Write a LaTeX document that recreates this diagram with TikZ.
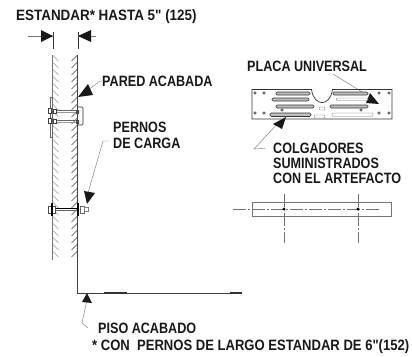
\documentclass[tikz,border=0pt]{standalone}
\usepackage{fontspec}
\setmainfont{Liberation Sans}[Ligatures=TeXOff]
\newcommand{\pp}[2][0.84]{\scalebox{#1}[1]{\bfseries #2}}
\tikzset{x=1pt,y=-1pt,
 lbl/.style={font=\fontsize{15}{17}\selectfont\bfseries,inner sep=0,anchor=west,align=left,text=black!90},
 lead/.style={draw=black!55,line width=0.4pt},
 tip/.style={fill=black!90,draw=none},
 wall/.style={draw=black!55,line width=0.6pt},
 hatchl/.style={draw=black!40,line width=0.4pt},
 hatchr/.style={draw=black!75,line width=0.45pt},
 plate/.style={draw=black!80,line width=0.7pt},
 slot/.style={draw=black!80,line width=0.6pt,fill=black!25,rounded corners=1.2pt},
 slote/.style={draw=black!55,line width=0.4pt,fill=white,rounded corners=1.2pt},
 hole/.style={draw=black!80,line width=0.5pt,fill=white},
 center/.style={draw=black!55,line width=0.5pt,dash pattern=on 13pt off 2pt on 2pt off 2pt},
}
\begin{document}
\begin{tikzpicture}
\useasboundingbox (0,0) rectangle (412,356);
% text
\node[lbl] (t1) at (16,16.5) {\pp[0.895]{ESTANDAR* HASTA 5" (125)}};
\node[lbl] (t2) at (102,81) {\pp{PARED ACABADA}};
\node[lbl] (t3) at (113,127) {\pp{PERNOS}};
\node[lbl] (t4) at (113,143) {\pp{DE CARGA}};
\node[lbl] (t5) at (247,66) {\pp{PLACA UNIVERSAL}};
\node[lbl] (t6) at (273,148) {\pp{COLGADORES}};
\node[lbl] (t7) at (273,163) {\pp{SUMINISTRADOS}};
\node[lbl] (t8) at (273,178) {\pp{CON EL ARTEFACTO}};
\node[lbl] (t9) at (98,328) {\pp{PISO ACABADO}};
\node[lbl] (t10) at (92,346.5) {\pp[0.87]{* CON\ \ PERNOS DE LARGO ESTANDAR DE 6"(152)}};
% coordinates
\coordinate (wl1) at (52.5,55); \coordinate (wl2) at (52.5,260);
\coordinate (wr1) at (77.5,55); \coordinate (wr2) at (77.5,293);
\coordinate (f2) at (242,293);
% walls
\draw[wall] (wl1)--(wl2);
\draw[draw=black!75,line width=0.6pt] (wr1)--(wr2)--(f2);
\draw[black!80,line width=1.1pt] (104,293)--(127,293) (230,293)--(242,293);
\foreach \y in {55,62,...,252} {\draw[hatchl] (52.5,\y)--(58.5,\y+6);}
\foreach \y in {55,62,...,252} {\draw[hatchr] (77.5,\y)--(71.5,\y+6);}
% dimension
\draw[black!80,line width=0.6pt] (53,32)--(53,49) (78,32)--(78,49);
\coordinate (da) at (28,36); \coordinate (db) at (96,36);
\draw[lead] (da)--(53,36) (db)--(78,36);
\fill[tip] (53,36)--(41,30)--(41,42)--cycle;
\fill[tip] (78,36)--(91,30)--(91,42)--cycle;
% upper bracket
\draw[black!60,line width=0.5pt,fill=white] (50,97) rectangle (52.5,137);
\draw[black!60,line width=0.6pt] (55,110)--(77,110) (55,120)--(77,120);
\draw[black!40,line width=0.5pt] (55,112)--(77,112) (55,122)--(77,122);
\draw[black!75,line width=0.5pt,fill=white] (48,108) rectangle (51,113.5) (48,118) rectangle (51,123.5);
\draw[black!75,line width=0.5pt,fill=white] (53,109) rectangle (56,113) (53,119) rectangle (56,123);
\fill[black!70] (76,110) rectangle (79,114) (76,120) rectangle (79,124);
\draw[black!85,line width=0.7pt,rounded corners=1pt] (78,107) -- (83,107) -- (83,125) -- (78,125);
% lower bolt
\draw[black,line width=1.1pt] (54,208.5)--(77,208.5);
\draw[black!60,line width=0.3pt] (54,210.5)--(77,210.5);
\draw[black!70,line width=0.5pt,fill=white] (48,206) rectangle (55,213);
\fill[black] (51,203) rectangle (53,215.5);
\fill[black] (77,203) rectangle (79,215.5);
\draw[black!60,line width=0.5pt,fill=white] (80,206) rectangle (84,213);
\draw[black!50,line width=0.4pt,fill=white] (84,207.5) rectangle (88,211.5);
% leaders
\draw[lead] (t2.west)--(100,81)--(80,96);
\fill[tip] (78,97)--(88,84)--(93,95)--cycle;
\coordinate (b) at (109,141);
\draw[lead] (b)--(103,141)--(88,193);
\fill[tip] (87,204)--(84,191)--(95,193)--cycle;
\coordinate (pa) at (333,74); \coordinate (pb) at (367,95);
\draw[lead] (pa)--(pb);
\fill[tip] (379,104)--(370,93)--(366,103)--cycle;
\draw[lead,shorten <=8pt] (t6.west)--(254,149)--(279,122);
\fill[tip] (286,117)--(273,124)--(282,129)--cycle;
\draw[lead,shorten <=10pt] (t9.west)--(88,328)--(82,323)--(87,300);
\fill[tip] (87,293)--(82,302)--(92,303)--cycle;
% plate
\draw[plate] (252,89.5) -- (311.5,89.5) .. controls (314,107) and (330,107) .. (332.5,89.5) -- (392,89.5) -- (392,119) -- (252,119) -- cycle;
\draw[slot] (276,92) rectangle (310,95);
\draw[slot] (272,98) rectangle (309,101);
\draw[slot] (276,105) rectangle (314,108);
\draw[slot] (270,113) rectangle (311,116.5);
\draw[slote] (314,115) rectangle (325,118);
\draw[slote] (319,107) rectangle (325,110);
\draw[slot] (333,92) rectangle (368,95);
\draw[slote] (336,98) rectangle (368,100.5);
\draw[slot] (330,105) rectangle (368,108);
\draw[slote] (332,113) rectangle (373,116.5);
\foreach \x/\y in {255/93,264/93,379/93,389/93,255/113,264/113,379/113,389/113,282/110,361/110}
 {\draw[hole] (\x,\y) circle[radius=1.3];}
% hanger
\draw[black!55,line width=0.6pt] (252,202) rectangle (391,216);
\coordinate (h1) at (284,209); \coordinate (h2) at (358,209);
\draw[center] (233,209)--(379,209);
\draw[center] (284,194)--(h1)--(284,243);
\draw[center] (358,194)--(h2)--(358,243);
\fill[black] (h1) circle[radius=1.7] (h2) circle[radius=1.7];
\end{tikzpicture}
\end{document}
